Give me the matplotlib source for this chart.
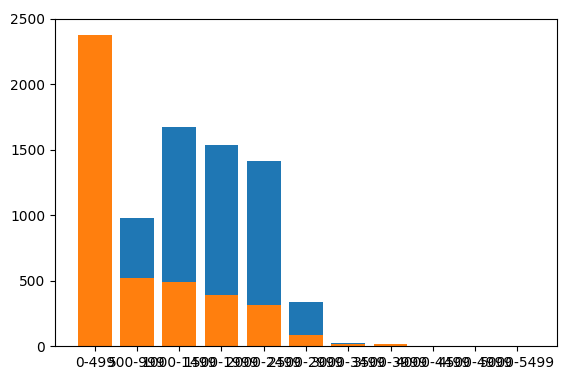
import matplotlib.pyplot as plt

# bins of the histogram
labels = ['0-499', '500-999', '1000-1499', '1500-1999', '2000-2499', '2500-2999',
          '3000-3499', '3500-3999', '4000-4499', '4500-4999', '5000-5499']

# counts
blue_counts = [2300, 980, 1675, 1540, 1415, 335, 25, 5, 0, 0, 0]
orange_counts = [2380, 520, 490, 390, 312, 84, 12, 12, 0, 0, 0]

fig = plt.figure(figsize=(5.74, 3.8), dpi=100)
ax = fig.add_axes([55 / 574, 34 / 380, 502 / 574, 327 / 380])

ax.bar(labels, blue_counts, color='#1f77b4')
ax.bar(labels, orange_counts, color='#ff7f0e')
ax.set_ylim(0, 2500)
ax.tick_params(labelsize=10)

fig.savefig('out.png', dpi=100)
